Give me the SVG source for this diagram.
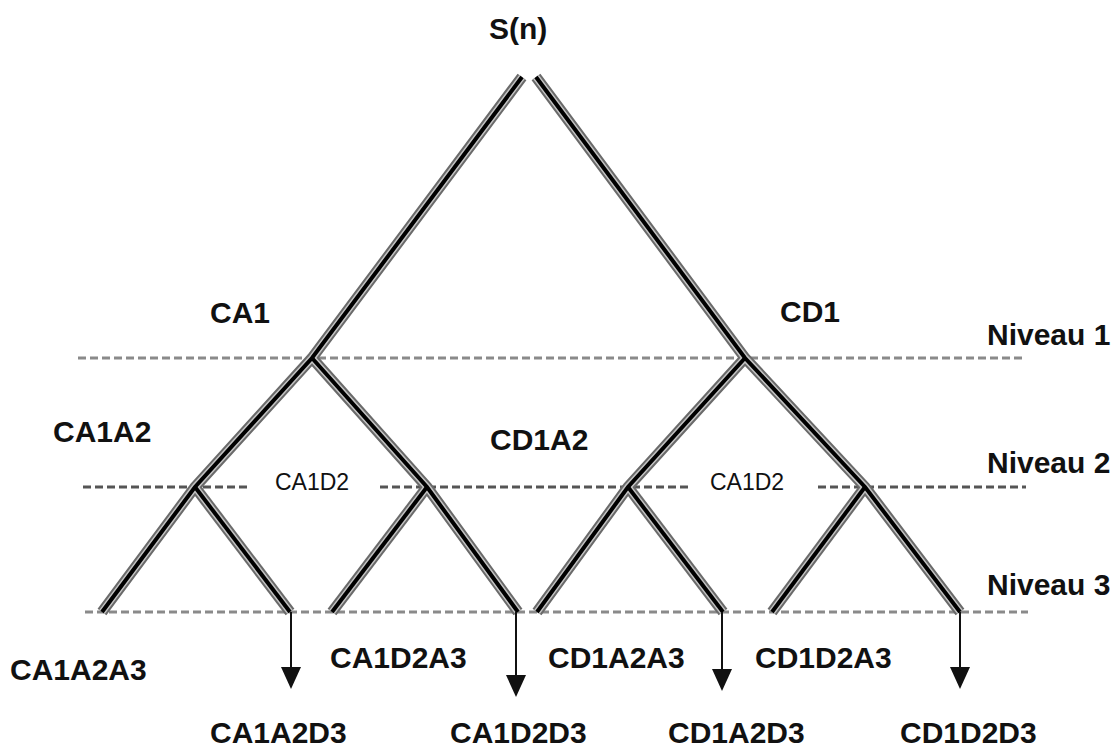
<svg xmlns="http://www.w3.org/2000/svg" width="1118" height="751" viewBox="0 0 1118 751">
<defs>
<style>
.t{font-family:"Liberation Sans",Arial,sans-serif;font-weight:bold;font-size:30px;fill:#111}
.s{font-family:"Liberation Sans",Arial,sans-serif;font-size:23px;fill:#111}
.h1{fill:none;stroke:#6a6a6a;stroke-width:11;stroke-linecap:butt;stroke-linejoin:miter}
.h2{fill:none;stroke:#c4c4c4;stroke-width:7;stroke-linecap:butt;stroke-linejoin:miter}
.h3{fill:none;stroke:#000;stroke-width:4;stroke-linecap:butt;stroke-linejoin:miter}
.lv{fill:none;stroke:#8a8a8a;stroke-width:3;stroke-dasharray:8 4}
.lv2{fill:none;stroke:#555;stroke-width:3;stroke-dasharray:8 4}
.ar{fill:none;stroke:#111;stroke-width:2}
</style>
<g id="br">
<path d="M522,77 L312,358 L195,487 L102,612"/>
<path d="M536,77 L745,358 L865,487 L960,612"/>
<path d="M312,358 L427,487 L518,612"/>
<path d="M195,487 L290,612"/>
<path d="M427,487 L332,612"/>
<path d="M745,358 L628,487 L537,612"/>
<path d="M628,487 L723,612"/>
<path d="M865,487 L772,612"/>
</g>
</defs>
<g id="levels">
<path class="lv" d="M78,358 H1022"/>
<path class="lv2" d="M83,487 H250 M380,487 H688 M818,487 H1026"/>
<path class="lv" d="M85,612 H1028"/>
</g>
<g id="connectors">
<use href="#br" class="h1"/>
<use href="#br" class="h2"/>
<use href="#br" class="h3"/>
<path class="ar" d="M291,612 V667"/>
<path d="M281,667 L301,667 L291,689 Z" fill="#111"/>
<path class="ar" d="M516,612 V675"/>
<path d="M506,675 L526,675 L516,697 Z" fill="#111"/>
<path class="ar" d="M722,612 V669"/>
<path d="M712,669 L732,669 L722,691 Z" fill="#111"/>
<path class="ar" d="M960,612 V667"/>
<path d="M950,667 L970,667 L960,689 Z" fill="#111"/>
</g>
<g id="root"><text class="t" x="489" y="39">S(n)</text></g>
<g id="ca1"><text class="t" x="210" y="323">CA1</text></g>
<g id="cd1"><text class="t" x="780" y="322">CD1</text></g>
<g id="niv1"><text class="t" x="987" y="345">Niveau 1</text></g>
<g id="niv2"><text class="t" x="987" y="473">Niveau 2</text></g>
<g id="niv3"><text class="t" x="987" y="595">Niveau 3</text></g>
<g id="ca1a2"><text class="t" x="53" y="442">CA1A2</text></g>
<g id="cd1a2"><text class="t" x="490" y="450">CD1A2</text></g>
<g id="ca1d2"><text class="s" x="275" y="490">CA1D2</text></g>
<g id="cd1d2"><text class="s" x="710" y="490">CA1D2</text></g>
<g id="ca1a2a3"><text class="t" x="10" y="680">CA1A2A3</text></g>
<g id="ca1d2a3"><text class="t" x="330" y="668">CA1D2A3</text></g>
<g id="cd1a2a3"><text class="t" x="548" y="668">CD1A2A3</text></g>
<g id="cd1d2a3"><text class="t" x="755" y="668">CD1D2A3</text></g>
<g id="ca1a2d3"><text class="t" x="210" y="743">CA1A2D3</text></g>
<g id="ca1d2d3"><text class="t" x="450" y="743">CA1D2D3</text></g>
<g id="cd1a2d3"><text class="t" x="668" y="743">CD1A2D3</text></g>
<g id="cd1d2d3"><text class="t" x="900" y="743">CD1D2D3</text></g>
</svg>
